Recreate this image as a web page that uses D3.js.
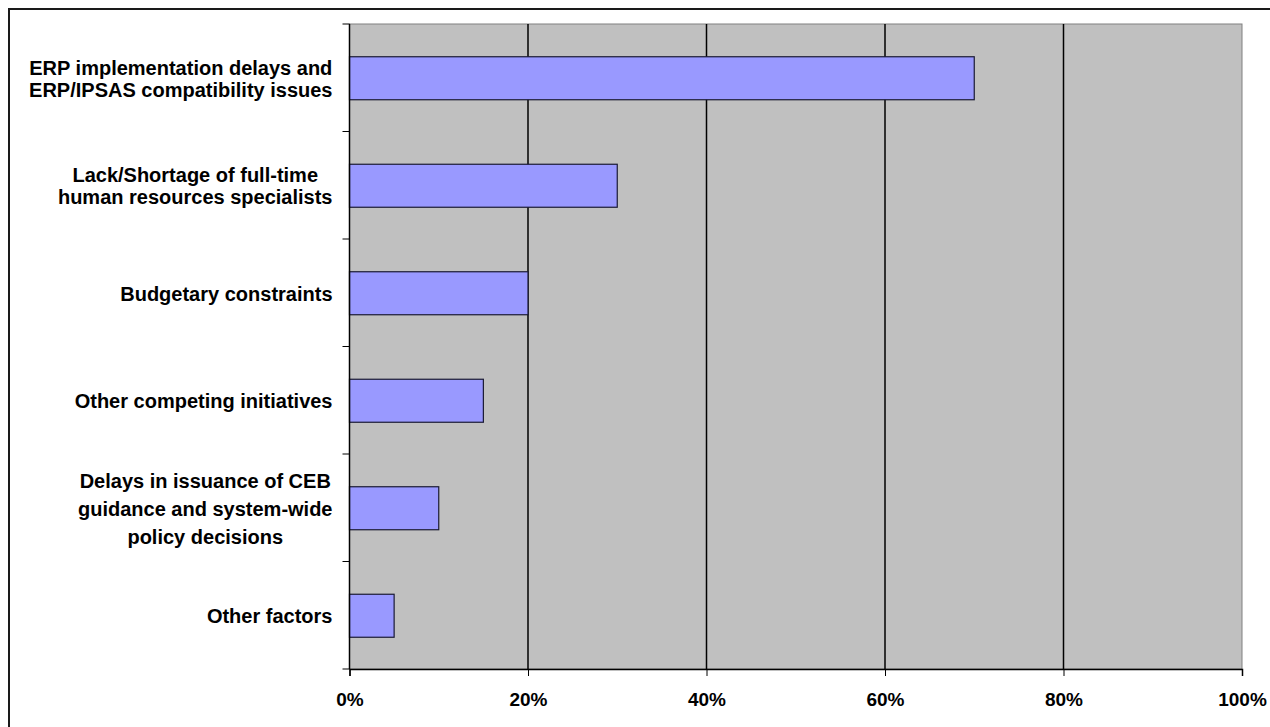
<!DOCTYPE html>
<html>
<head>
<meta charset="utf-8">
<script src="https://cdn.jsdelivr.net/npm/d3@7"></script>
<style>
  body { margin: 0; background: #fff; }
  svg text { font-family: "Liberation Sans", Arial, sans-serif; font-weight: bold; fill: #000; }
</style>
</head>
<body>
<div id="chart"></div>
<script>
const categories = [
  ['ERP implementation delays and', 'ERP/IPSAS compatibility issues'],
  ['Lack/Shortage of full-time', 'human resources specialists'],
  ['Budgetary constraints'],
  ['Other competing initiatives'],
  ['Delays in issuance of CEB', 'guidance and system-wide', 'policy decisions'],
  ['Other factors']
];
const values = [0.70, 0.30, 0.20, 0.15, 0.10, 0.05];
const xTicks = [0, 0.2, 0.4, 0.6, 0.8, 1.0];

const W = 1270, H = 727;
const margin = { top: 24, right: 28, bottom: 58, left: 349.5 };
const width = W - margin.left - margin.right;
const height = H - margin.top - margin.bottom;

const svg = d3.select('#chart').append('svg')
  .attr('width', W).attr('height', H);

// outer frame (right/bottom run off the picture)
svg.append('rect')
  .attr('x', 9).attr('y', 9)
  .attr('width', W + 10).attr('height', H + 10)
  .attr('fill', 'none').attr('stroke', '#1a1a1a').attr('stroke-width', 2);

const g = svg.append('g').attr('transform', `translate(${margin.left},${margin.top})`);

const x = d3.scaleLinear().domain([0, 1]).range([0, width]);
const y = d3.scaleBand().domain(d3.range(categories.length)).range([0, height])
  .paddingInner(0.6).paddingOuter(0.3);
const yb = d3.scaleBand().domain(d3.range(categories.length)).range([0, height]);

// plot background
g.append('rect').attr('width', width).attr('height', height)
  .attr('fill', '#c0c0c0').attr('stroke', '#808080').attr('stroke-width', 1);

// gridlines
g.selectAll('.grid').data(xTicks.slice(1, -1)).enter().append('line')
  .attr('x1', d => x(d)).attr('x2', d => x(d))
  .attr('y1', 0).attr('y2', height)
  .attr('stroke', '#000').attr('stroke-width', 1.5);

// bars
g.selectAll('.bar').data(values).enter().append('rect')
  .attr('x', 0)
  .attr('y', (d, i) => y(i) + 0.5)
  .attr('width', d => x(d))
  .attr('height', y.bandwidth())
  .attr('fill', '#9999ff').attr('stroke', '#1a1a33').attr('stroke-width', 1.2);

// x axis
const xAxis = d3.axisBottom(x).tickValues(xTicks).tickSize(7).tickPadding(17)
  .tickFormat(d3.format('.0%'));
const xa = g.append('g').attr('transform', `translate(0,${height})`).call(xAxis);
xa.select('.domain').attr('stroke', '#000').attr('stroke-width', 1.5);
xa.selectAll('.tick line').attr('stroke', '#000');
xa.selectAll('text').style('font-size', '19px').attr('fill', '#000');

// y axis line and ticks at band boundaries
g.append('line').attr('x1', 0).attr('x2', 0).attr('y1', 0).attr('y2', height)
  .attr('stroke', '#000').attr('stroke-width', 1.5);
const bounds = d3.range(categories.length + 1).map(i => i === categories.length ? height : yb(i));
g.selectAll('.ytick').data(bounds).enter().append('line')
  .attr('x1', -7).attr('x2', 0)
  .attr('y1', d => d).attr('y2', d => d)
  .attr('stroke', '#000').attr('stroke-width', 1);

// category labels: centered lines, right aligned block
categories.forEach((lines, i) => {
  const lineH = lines.length > 2 ? 28 : 22;
  const t = g.append('text').style('font-size', '20px').attr('text-anchor', 'middle');
  const cy = yb(i) + yb.bandwidth() / 2 + 1;
  lines.forEach((s, j) => {
    t.append('tspan').text(s).attr('x', 0)
      .attr('y', cy + (j - (lines.length - 1) / 2) * lineH + 7);
  });
  const w = t.node().getBBox().width;
  t.selectAll('tspan').attr('x', -17 - w / 2);
});
</script>
</body>
</html>
